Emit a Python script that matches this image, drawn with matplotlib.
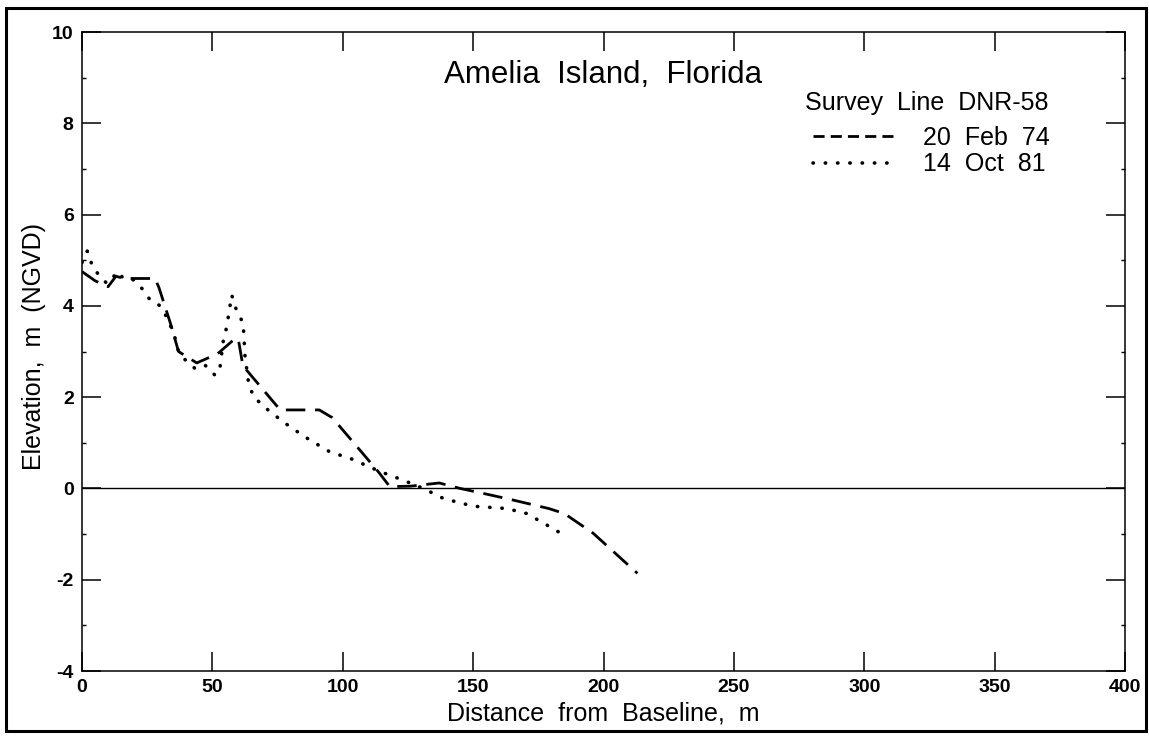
import matplotlib.pyplot as plt
from matplotlib.lines import Line2D
from matplotlib.patches import Rectangle
from matplotlib.ticker import MultipleLocator

plt.rcParams['font.family'] = ['Liberation Sans', 'DejaVu Sans']
plt.rcParams['axes.unicode_minus'] = False

# 20 Feb 74 survey (dashed)
feb74_x = [0, 5, 10, 13, 16, 28, 29.5, 34, 37, 44, 52, 59, 60, 61.5, 63, 76, 91, 96,
           114, 118, 126, 137, 145, 154, 165, 179, 185, 196, 213]
feb74_y = [4.75, 4.55, 4.42, 4.65, 4.6, 4.6, 4.4, 3.6, 3.0, 2.75, 2.95, 3.3, 3.25, 2.75,
           2.6, 1.72, 1.72, 1.55, 0.34, 0.04, 0.05, 0.12, 0.0, -0.11, -0.25, -0.44, -0.55,
           -0.98, -1.86]

# 14 Oct 81 survey (dotted)
oct81_x = [0, 2, 4.3, 9.5, 13.9, 15.8, 19.7, 23.5, 26.1, 30, 33.1, 35.7, 37, 40.1, 43.3,
           47.2, 51, 52.8, 54.2, 55.5, 57.4, 59.2, 61.8, 62.5, 63.8, 65.7, 72.1, 79.8,
           87.4, 95.1, 102.8, 114.3, 123.2, 130.9, 138.6, 150.1, 162.9, 170.6, 178.2, 182.7]
oct81_y = [4.95, 5.2, 4.82, 4.49, 4.75, 4.6, 4.57, 4.35, 4.13, 4.0, 3.69, 3.29, 3.0, 2.78,
           2.63, 2.7, 2.48, 2.6, 3.25, 3.54, 4.24, 3.91, 3.62, 2.9, 2.34, 2.01, 1.68, 1.35,
           1.06, 0.8, 0.66, 0.37, 0.18, 0.0, -0.22, -0.39, -0.44, -0.55, -0.8, -0.95]

labels = ['20  Feb  74', '14  Oct  81']
xticks = [0, 50, 100, 150, 200, 250, 300, 350, 400]
yticks = [-4, -2, 0, 2, 4, 6, 8, 10]

dash_style = (0, (7, 3.5))
dot_style = (0, (0.1, 3.3))

fig = plt.figure(figsize=(11.49, 7.36), dpi=100)
ax = fig.add_axes([0.0714, 0.0883, 0.9077, 0.8682])

ax.axhline(0, color='black', lw=1.0)
ax.plot(feb74_x, feb74_y, color='black', lw=2.0, linestyle=dash_style)
ax.plot(oct81_x, oct81_y, color='black', lw=2.6, linestyle=dot_style,
        dash_capstyle='round')

ax.set_xlim(0, 400)
ax.set_ylim(-4, 10)
ax.set_xticks(xticks)
ax.set_yticks(yticks)
ax.yaxis.set_minor_locator(MultipleLocator(1))
ax.tick_params(which='major', direction='in', length=14, width=1.1,
               top=True, right=True, labelsize=14, pad=6)
ax.tick_params(which='minor', direction='in', length=3, width=1.0,
               left=True, right=True)
for lab in ax.get_xticklabels() + ax.get_yticklabels():
    lab.set_fontweight('bold')
for sp in ax.spines.values():
    sp.set_linewidth(1.1)

ax.set_title('Amelia  Island,  Florida', fontsize=22.5, y=0.92, pad=0)
ax.set_xlabel('Distance  from  Baseline,  m', fontsize=18, labelpad=4)
fig.text(0.030, 0.529, 'Elevation,  m  (NGVD)', fontsize=18, rotation=90,
         ha='center', va='center')

# legend: title as text, entries with shorter dashes like the original key
ax.text(0.693, 0.889, 'Survey  Line  DNR-58', transform=ax.transAxes,
        fontsize=18, ha='left', va='center')
handles = [Line2D([], [], color='black', lw=2.0, linestyle=(0, (4, 2.2))),
           Line2D([], [], color='black', lw=2.6, linestyle=dot_style,
                  dash_capstyle='round')]
ax.legend(handles, labels, loc='upper left', bbox_to_anchor=(0.701, 0.853),
          frameon=False, fontsize=18, handlelength=3.4, handletextpad=1.0,
          labelspacing=0.1, borderpad=0, borderaxespad=0)

fig.patches.append(Rectangle((0.005, 0.007), 0.992, 0.982, transform=fig.transFigure,
                             fill=False, edgecolor='black', lw=2.2))

fig.savefig('out.png', dpi=100)
